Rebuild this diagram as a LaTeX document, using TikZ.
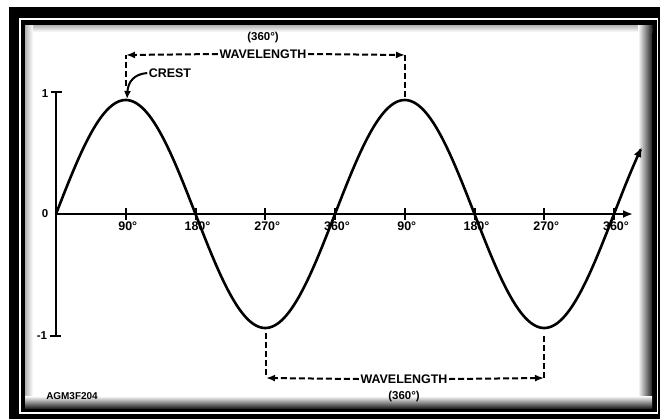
\documentclass[tikz,border=0pt]{standalone}
\usepackage{fontspec}
\setmainfont{Liberation Sans}
\usetikzlibrary{arrows.meta}
\begin{document}
\begin{tikzpicture}[x=1bp,y=-1bp,
  txt/.style={inner sep=1.5bp, font=\fontsize{12.5}{13}\selectfont\bfseries},
  sml/.style={inner sep=0pt, font=\fontsize{11.5}{12}\selectfont\bfseries},
  deglbl/.style={inner sep=0pt, font=\fontsize{12.5}{13}\selectfont\bfseries},
  axlbl/.style={inner sep=0pt, font=\fontsize{11.5}{12}\selectfont\bfseries},
  axisline/.style={line width=2bp},
  wave/.style={line width=2.6bp},
  dim/.style={line width=2bp, dash pattern=on 6bp off 3bp},
  tip/.style={-{Latex[length=9bp,width=7bp]}},
  frameblack/.style={fill=black}
]
\useasboundingbox (0,0) rectangle (660,419);
% frame
\fill[frameblack] (9,7) rectangle (660,419);
\fill[white] (19,18) rectangle (657.5,414);
\fill[frameblack] (21,20) rectangle (657,412);
\fill[white] (25,25) rectangle (652,408);
\shade[top color=black!30, bottom color=white] (25,25) rectangle (652,32);
\shade[left color=black!30, right color=white] (25,25) rectangle (33,408);
\shade[left color=white, right color=black!85] (638,25) rectangle (652,408);
\shade[top color=white, bottom color=black!85] (25,396) rectangle (652,408);

% axes
\coordinate (o) at (56,214);
\coordinate (xend) at (633,214);
\coordinate (ytop) at (56,92);
\coordinate (ybot) at (56,336);
\draw[axisline, -{Latex[length=10bp,width=8bp]}] (o) -- (xend);
\draw[axisline] (ytop) -- (ybot);
\draw[axisline] (51,92) -- (62,92);
\draw[axisline] (50,336) -- (61,336);
\node[axlbl] (y1) at (45,94) {1};
\node[axlbl] (y0) at (45,214) {0};
\node[axlbl] (ym1) at (42,336) {-1};

\foreach \d/\t in {90/90,180/180,270/270,360/360,450/90,540/180,630/270,720/360} {
  \draw[axisline] ({56+0.775*\d},208) -- ({56+0.775*\d},220);
  \node[deglbl] (d\d) at ({58+0.775*\d},226) {\t°};
}

% wave
\draw[wave, -{Latex[length=10bp,width=8bp]}] plot[domain=0:756, samples=300, smooth] ({56+0.775*\x},{214-114*sin(\x)});

% top dimension
\coordinate (tl) at (126,55);
\coordinate (tlb) at (126,86);
\coordinate (tr) at (405,55);
\coordinate (trb) at (405,99);
\node[txt] (wl1) at (263,54) {WAVELENGTH};
\node[sml] (deg1) at (263,38) {(360°)};
\draw[dim] (tlb) -- (tl);
\draw[dim, tip] (wl1.west) -- (tl);
\draw[dim, tip] (wl1.east) -- (tr);
\draw[dim] (tr) -- (trb);

% crest
\node[txt] (crest) at (170,73) {CREST};
\coordinate (crestpt) at (127,99);
\draw[line width=2bp, -{Latex[length=8bp,width=7bp]}] (crest.west) .. controls (134,74) and (128,82) .. (crestpt);

% bottom dimension
\coordinate (bl) at (266,378);
\coordinate (blt) at (266,333);
\coordinate (br) at (544,378);
\coordinate (brt) at (544,333);
\node[txt] (wl2) at (404,379) {WAVELENGTH};
\node[sml] (deg2) at (404,397) {(360°)};
\draw[dim] (blt) -- (bl);
\draw[dim, tip] (wl2.west) -- (bl);
\draw[dim, tip] (wl2.east) -- (br);
\draw[dim] (br) -- (brt);

\node[inner sep=0pt, font=\fontsize{10}{10}\selectfont\bfseries] (code) at (72,396) {AGM3F204};
\end{tikzpicture}
\end{document}
